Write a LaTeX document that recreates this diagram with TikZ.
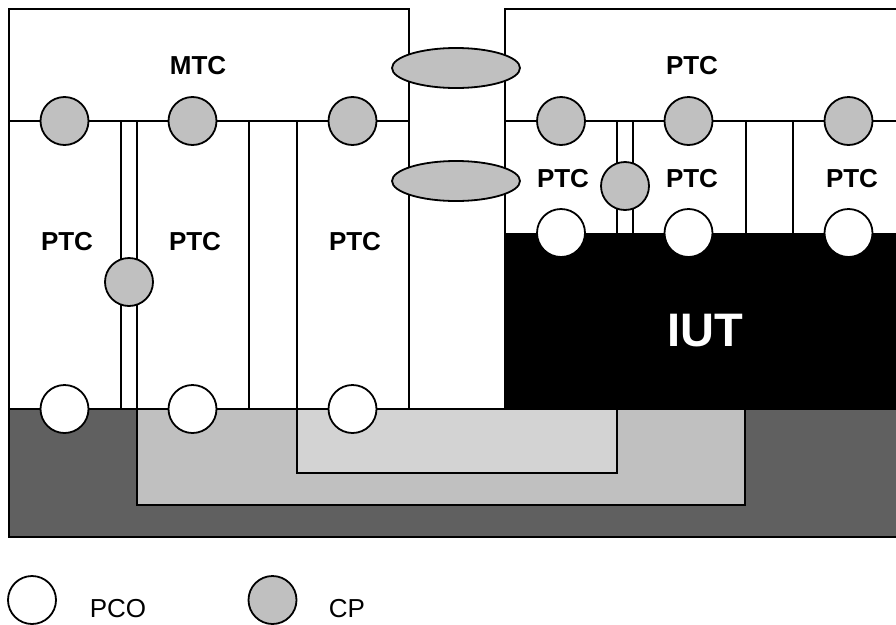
\documentclass[tikz,border=0pt]{standalone}
\usepackage{fontspec}
\setmainfont{Liberation Sans}
\usetikzlibrary{shapes.geometric}
\definecolor{cpgray}{HTML}{C0C0C0}
\definecolor{darkgray}{HTML}{606060}
\definecolor{midgray}{HTML}{C0C0C0}
\definecolor{lightgray}{HTML}{D3D3D3}
\begin{document}
\begin{tikzpicture}[x=1pt,y=-1pt,line width=1.8pt,
  cp/.style={circle,draw=black,fill=cpgray,minimum size=48pt,inner sep=0pt,line width=1.8pt},
  pco/.style={circle,draw=black,fill=white,minimum size=48pt,inner sep=0pt,line width=1.8pt},
  lbl/.style={font=\fontsize{26}{26}\selectfont\bfseries,anchor=base,inner sep=0pt},
  leg/.style={font=\fontsize{26}{26}\selectfont,anchor=base,inner sep=0pt},
  link/.style={ellipse,draw=black,fill=cpgray,minimum width=128pt,minimum height=40pt,inner sep=0pt,line width=1.8pt}]
\useasboundingbox (0,0) rectangle (896,624);
\clip (0,0) rectangle (896,624);
% bottom layers
\draw[fill=darkgray] (9,409) rectangle (910,537);
\draw[fill=midgray] (137,409) rectangle (745,505);
\draw[fill=lightgray] (297,409) rectangle (617,473);
% IUT
\fill[black] (505,233) rectangle (910,409);
\node[font=\fontsize{47}{47}\selectfont\bfseries,text=white,anchor=base,inner sep=0pt] (iut) at (705,346) {IUT};
% left box
\draw (9,409) -- (9,9) -- (409,9) -- (409,409);
\draw (9,409) -- (505,409);
\draw (9,121) -- (409,121);
\draw (121,121) -- (121,409);
\draw (137,121) -- (137,409);
\draw (249,121) -- (249,409);
\draw (297,121) -- (297,409);
% right box
\draw (910,9) -- (505,9) -- (505,409);
\draw (505,121) -- (910,121);
\draw (617,121) -- (617,233);
\draw (633,121) -- (633,233);
\draw (746,121) -- (746,233);
\draw (793,121) -- (793,233);
% labels
\node[lbl] (mtc) at (198,74) {MTC};
\node[lbl] (ptc1) at (67,250) {PTC};
\node[lbl] (ptc2) at (195,250) {PTC};
\node[lbl] (ptc3) at (355,250) {PTC};
\node[lbl] (ptcm) at (692,74) {PTC};
\node[lbl] (ptc4) at (563,187) {PTC};
\node[lbl] (ptc5) at (692,187) {PTC};
\node[lbl] (ptc6) at (852,187) {PTC};
% links
\node[link] (l1) at (456,68) {};
\node[link] (l2) at (456,181) {};
% CPs
\node[cp] (cp1) at (64.5,121) {};
\node[cp] (cp2) at (192.5,121) {};
\node[cp] (cp3) at (352.5,121) {};
\node[cp] (cp4) at (129,282) {};
\node[cp] (cp5) at (561,121) {};
\node[cp] (cp6) at (688.5,121) {};
\node[cp] (cp7) at (848.5,121) {};
\node[cp] (cp8) at (625,186) {};
% PCOs
\node[pco] (p1) at (64.5,409) {};
\node[pco] (p2) at (192.5,409) {};
\node[pco] (p3) at (352.5,409) {};
\node[pco] (p4) at (561,233) {};
\node[pco] (p5) at (688.5,233) {};
\node[pco] (p6) at (848.5,233) {};
% legend
\node[pco] (lpco) at (32,600) {};
\node[leg] (tpco) at (118,617) {PCO};
\node[cp] (lcp) at (272.5,600) {};
\node[leg] (tcp) at (347,617) {CP};
\end{tikzpicture}
\end{document}
